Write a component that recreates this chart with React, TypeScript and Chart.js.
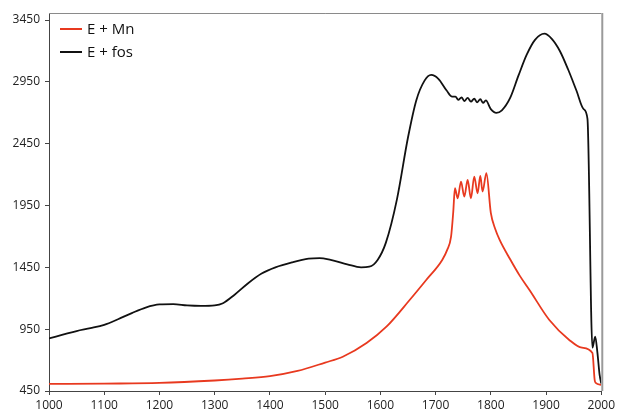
import React, { useEffect, useRef } from "react";
import { Chart, registerables } from "chart.js";

Chart.register(...registerables);

// E + fos spectrum
const fosX = [1000, 1025, 1050, 1075, 1100, 1125, 1150, 1175, 1200, 1225, 1250, 1275, 1300, 1315, 1335, 1360, 1385, 1410, 1440, 1470, 1490, 1510, 1540, 1565, 1580, 1595, 1610, 1630, 1650, 1665, 1680, 1692, 1705, 1720, 1730, 1736, 1741, 1747, 1752, 1758, 1764, 1770, 1775, 1781, 1786, 1791, 1800, 1810, 1820, 1835, 1850, 1865, 1880, 1897, 1910, 1925, 1940, 1955, 1968, 1975, 1984, 1989, 1993, 1997, 2000];
const fosY = [875, 905, 935, 958, 985, 1030, 1080, 1125, 1150, 1152, 1142, 1138, 1142, 1160, 1225, 1320, 1400, 1450, 1490, 1520, 1525, 1510, 1475, 1450, 1455, 1510, 1650, 2000, 2500, 2800, 2960, 3006, 2975, 2880, 2830, 2830, 2805, 2825, 2795, 2820, 2790, 2815, 2785, 2810, 2780, 2800, 2730, 2700, 2720, 2820, 3000, 3170, 3290, 3340, 3300, 3200, 3050, 2880, 2730, 2650, 800, 890, 760, 580, 510];

// E + Mn spectrum
const mnX = [1000, 1100, 1200, 1300, 1350, 1400, 1450, 1500, 1532, 1575, 1611, 1653, 1683, 1712, 1721, 1728, 1732, 1735, 1740, 1746, 1752, 1758, 1764, 1770, 1776, 1781, 1785, 1792, 1800, 1808, 1816, 1835, 1852, 1870, 1906, 1942, 1965, 1984, 1988, 1990, 2000];
const mnY = [507, 510, 515, 535, 550, 570, 612, 680, 727, 838, 970, 1186, 1348, 1510, 1591, 1698, 1900, 2090, 2009, 2144, 2022, 2157, 2009, 2184, 2049, 2189, 2063, 2211, 1890, 1760, 1672, 1515, 1385, 1267, 1024, 863, 800, 757, 540, 515, 500];

const xTicks = [1000, 1100, 1200, 1300, 1400, 1500, 1600, 1700, 1800, 1900, 2000];
const yTicks = [450, 950, 1450, 1950, 2450, 2950, 3450];

const seriesNames = ["E + Mn", "E + fos"];
const seriesColors = ["#e8391f", "#111111"];

const toPoints = (xs: number[], ys: number[]) => xs.map((x, i) => ({ x, y: ys[i] }));

// top and right frame lines, plus a legend inside the plot's top-left corner
const framePlugin = {
  id: "frame",
  afterDatasetsDraw(chart: any) {
    const { ctx, chartArea } = chart;
    ctx.save();
    ctx.strokeStyle = "#8a8a8a";
    ctx.lineWidth = 1;
    ctx.beginPath();
    ctx.moveTo(chartArea.left, chartArea.top + 0.5);
    ctx.lineTo(chartArea.right, chartArea.top + 0.5);
    ctx.stroke();
    ctx.strokeStyle = "#9a9a9a";
    ctx.lineWidth = 2;
    ctx.beginPath();
    ctx.moveTo(chartArea.right + 1, chartArea.top);
    ctx.lineTo(chartArea.right + 1, chartArea.bottom);
    ctx.stroke();

    ctx.font = "15px 'Open Sans', sans-serif";
    ctx.textBaseline = "middle";
    ctx.textAlign = "left";
    chart.data.datasets.forEach((d: any, i: number) => {
      const y = chartArea.top + 16 + i * 23;
      const x = chartArea.left + 11;
      ctx.fillStyle = d.borderColor;
      ctx.fillRect(x, y - 1, 22, 2);
      ctx.fillStyle = "#111";
      ctx.fillText(d.label, x + 27, y + 1);
    });
    ctx.restore();
  },
};

export default function App() {
  const ref = useRef<HTMLCanvasElement>(null);

  useEffect(() => {
    if (!ref.current) return;
    const chart = new Chart(ref.current, {
      type: "line",
      data: {
        datasets: [
          {
            label: seriesNames[0],
            data: toPoints(mnX, mnY),
            borderColor: seriesColors[0],
            backgroundColor: seriesColors[0],
            borderWidth: 1.8,
            pointRadius: 0,
            cubicInterpolationMode: "monotone",
          },
          {
            label: seriesNames[1],
            data: toPoints(fosX, fosY),
            borderColor: seriesColors[1],
            backgroundColor: seriesColors[1],
            borderWidth: 1.8,
            pointRadius: 0,
            cubicInterpolationMode: "monotone",
          },
        ],
      },
      options: {
        animation: false,
        responsive: false,
        maintainAspectRatio: false,
        layout: { padding: { top: 13, right: 15, left: 0, bottom: 0 } },
        plugins: {
          tooltip: { enabled: false },
          legend: { display: false },
        },
        scales: {
          x: {
            type: "linear",
            min: 1000,
            max: 2000,
            afterBuildTicks: (s: any) => {
              s.ticks = xTicks.map((v) => ({ value: v }));
            },
            afterFit: (s: any) => {
              s.height = 25;
            },
            grid: { drawOnChartArea: false, drawTicks: true, tickLength: 4, color: "#444" },
            border: { color: "#444", width: 1 },
            ticks: {
              color: "#222",
              padding: 3,
              maxRotation: 0,
              font: { family: "'Open Sans', sans-serif", size: 12 },
              callback: (v: any) => String(v),
            },
          },
          y: {
            type: "linear",
            min: 450,
            max: 3507,
            afterBuildTicks: (s: any) => {
              s.ticks = yTicks.map((v) => ({ value: v }));
            },
            afterFit: (s: any) => {
              s.width = 49;
            },
            grid: { drawOnChartArea: false, drawTicks: true, tickLength: 4, color: "#444" },
            border: { color: "#444", width: 1 },
            ticks: {
              color: "#222",
              padding: 5,
              font: { family: "'Open Sans', sans-serif", size: 12 },
              callback: (v: any) => String(v),
            },
          },
        },
      },
      plugins: [framePlugin],
    });
    return () => chart.destroy();
  }, []);

  return (
    <div style={{ position: "fixed", left: 0, top: 0, width: 618, height: 416, background: "#fff" }}>
      <canvas ref={ref} width={618} height={416} style={{ display: "block" }} />
    </div>
  );
}
